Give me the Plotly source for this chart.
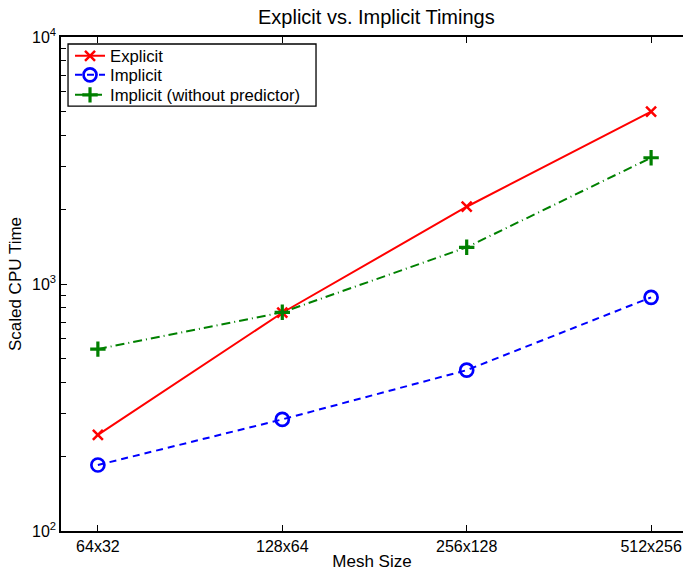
import plotly.graph_objects as go

mesh_sizes = ["64x32", "128x64", "256x128", "512x256"]
explicit = [245, 765, 2055, 4985]
implicit = [185, 283, 448, 883]
implicit_nopred = [545, 768, 1408, 3245]

major_ticks = [100, 1000, 10000]
major_labels = ["10<sup>2</sup>", "10<sup>3</sup>", "10<sup>4</sup>"]
minor_ticks = [m * d for d in (100, 1000) for m in range(2, 10)]

font = "Liberation Sans, Arial, Helvetica, sans-serif"

fig = go.Figure()
# invisible helper trace so the minor-tick overlay axis is drawn
fig.add_trace(go.Scatter(
    x=mesh_sizes, y=explicit, yaxis="y2", mode="lines",
    line=dict(color="rgba(0,0,0,0)", width=0), showlegend=False,
    hoverinfo="skip"))
fig.add_trace(go.Scatter(
    x=mesh_sizes, y=explicit, name="Explicit", mode="lines+markers",
    legend="legend",
    line=dict(color="#ff0000", width=2, dash="solid"),
    marker=dict(symbol="x-thin", size=10, color="#ff0000",
                line=dict(color="#ff0000", width=2.5))))
fig.add_trace(go.Scatter(
    x=mesh_sizes, y=implicit, name="Implicit", mode="lines+markers",
    legend="legend2",
    line=dict(color="#0000ff", width=2, dash="7px,5px"),
    marker=dict(symbol="circle-open", size=13, color="#0000ff",
                line=dict(color="#0000ff", width=2.7))))
fig.add_trace(go.Scatter(
    x=mesh_sizes, y=implicit_nopred, name="Implicit (without predictor)",
    mode="lines+markers", legend="legend3",
    line=dict(color="#008000", width=2, dash="9px,4px,1px,4px"),
    marker=dict(symbol="cross-thin", size=11, color="#008000",
                line=dict(color="#008000", width=3.2))))

leg_common = dict(x=0.0145, xanchor="left", yanchor="middle",
                  bgcolor="rgba(0,0,0,0)", borderwidth=0,
                  font=dict(size=16.7), itemwidth=30)

fig.update_layout(
    width=683, height=576,
    margin=dict(l=61, r=0, t=37, b=45),
    paper_bgcolor="white", plot_bgcolor="white",
    font=dict(family=font, size=16, color="black"),
    title=dict(text="Explicit vs. Implicit Timings", x=0.551, xanchor="center",
               y=0.97, yanchor="middle", font=dict(size=20)),
    showlegend=True,
    legend=dict(y=0.9615, **leg_common),
    legend2=dict(y=0.9231, **leg_common),
    legend3=dict(y=0.8826, **leg_common),
    shapes=[dict(type="rect", xref="paper", yref="paper",
                 x0=0.0113, x1=0.41, y0=0.860, y1=0.9858,
                 line=dict(color="black", width=1.3), fillcolor="white",
                 layer="above")],
    yaxis2=dict(type="log", range=[2, 4], overlaying="y", side="left",
                anchor="x",
                tickmode="array", tickvals=minor_ticks, ticks="inside",
                ticklen=5, tickcolor="black", tickwidth=1,
                showticklabels=False, showline=False, showgrid=False,
                zeroline=False),
)
fig.layout.xaxis.update(
    type="category", range=[-0.2, 3.173],
    showline=True, linecolor="black", linewidth=1.5, mirror="ticks",
    ticks="inside", ticklen=6, tickcolor="black", tickwidth=1,
    showgrid=False, zeroline=False,
    title=dict(text="Mesh Size", standoff=1, font=dict(size=17)),
    tickfont=dict(size=16),
)
fig.layout.yaxis.update(
    type="log", range=[2, 4],
    tickmode="array", tickvals=major_ticks, ticktext=major_labels,
    showline=True, linecolor="black", linewidth=1.5,
    ticks="inside", ticklen=6, tickcolor="black", tickwidth=1,
    showgrid=False, zeroline=False,
    title=dict(text="Scaled CPU Time", standoff=6, font=dict(size=17)),
    tickfont=dict(size=16),
)

fig.write_html("out.html")
